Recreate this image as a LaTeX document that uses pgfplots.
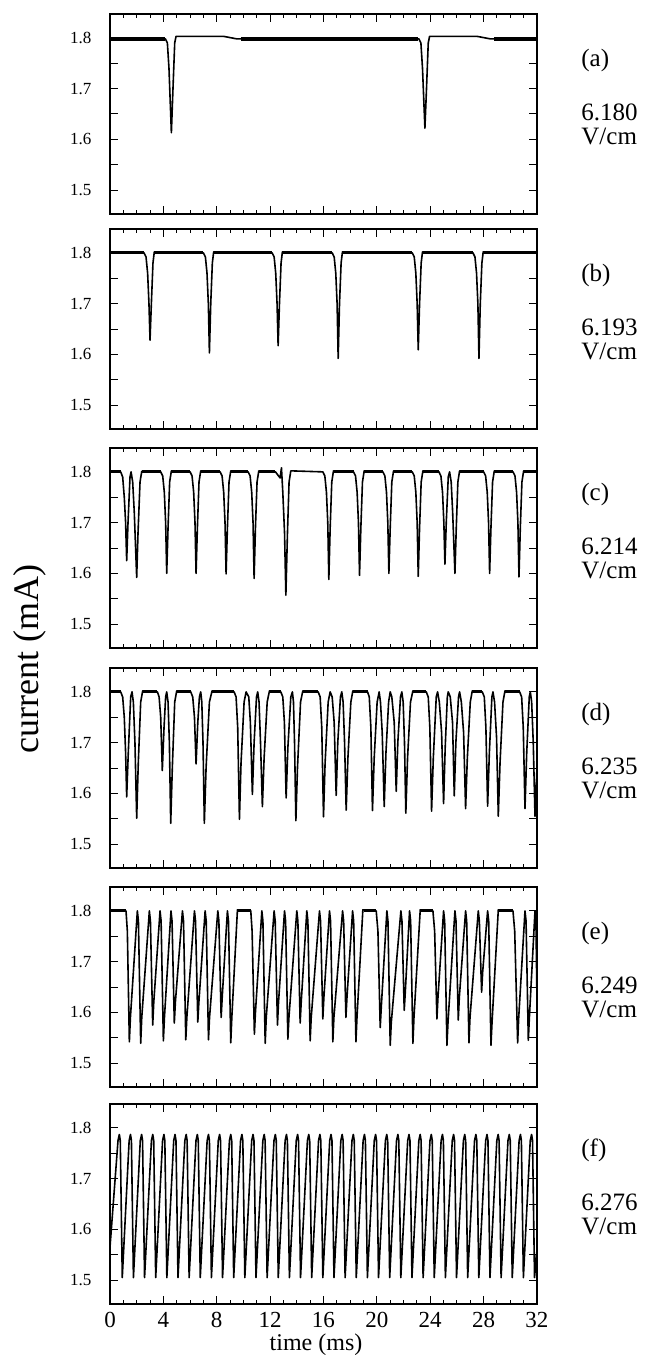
\documentclass[border=0pt]{standalone}
\usepackage{fontspec}
\setmainfont{Liberation Serif}
\usepackage{pgfplots}
\pgfplotsset{compat=1.18}
\pgfplotsset{
 panel/.style={
  scale only axis, width=213.5pt, height=100pt,
  xmin=0, xmax=32, ymin=1.453, ymax=1.847,
  xtick={0,4,...,32}, xticklabels={},
  minor x tick num=3,
  ytick={1.5,1.6,1.7,1.8}, yticklabels={1.5,1.6,1.7,1.8},
  extra y ticks={1.55,1.65,1.75}, extra y tick labels={},
  major tick length=4pt, minor tick length=2pt,
  tick style={line width=0.5pt, black},
  axis line style={line width=0.9pt},
  yticklabel style={font=\fontsize{8.5}{9}\selectfont, xshift=-5.8pt},
  xticklabel style={font=\fontsize{11.5}{13}\selectfont, inner sep=0pt, yshift=-4pt},
  anchor=north west, unbounded coords=jump,
 },
 trace/.style={black, line width=0.8pt, no markers, line join=round},
 noise/.style={black, line width=1.5pt, no markers, line cap=butt},
}
\newcommand{\rlab}[4]{%
 \node[anchor=west,inner sep=0pt,font=\fontsize{12.5}{14}\selectfont] at (290.5pt,-#1pt-23pt) {#2};
 \node[anchor=west,inner sep=0pt,font=\fontsize{12.5}{14}\selectfont] at (290.5pt,-#1pt-49pt) {#3};
 \node[anchor=west,inner sep=0pt,font=\fontsize{12.5}{14}\selectfont] at (290.5pt,-#1pt-61pt) {#4};}
\begin{document}
\begin{tikzpicture}
\useasboundingbox (0,0) rectangle (323.5pt,-677.5pt);
% (a)
\begin{axis}[panel, at={(55pt,-7pt)}]
\addplot[trace] coordinates {(0,1.798) (4.15,1.798) (4.3,1.79) (4.42,1.74) (4.6,1.613) (4.72,1.70) (4.85,1.79) (4.95,1.803) (8.5,1.803) (9.5,1.798) (23.15,1.798) (23.3,1.79) (23.42,1.74) (23.6,1.622) (23.72,1.70) (23.85,1.79) (23.95,1.803) (27.5,1.803) (28.5,1.798) (32,1.798)};
\addplot[noise, line width=1.8pt] coordinates {(0,1.798) (4.1,1.798) (4.1,nan) (9.8,1.798) (23.1,1.798) (23.1,nan) (28.8,1.798) (32,1.798)};
\end{axis}
% (b)
\begin{axis}[panel, at={(55pt,-114.5pt)}]
\addplot[trace] coordinates {(0,1.802)
(2.55,1.800) (2.7,1.792) (2.82,1.76) (2.92,1.70) (3.0,1.628) (3.1,1.70) (3.22,1.78) (3.32,1.802)
(7.0,1.800) (7.15,1.792) (7.27,1.76) (7.37,1.70) (7.45,1.603) (7.55,1.70) (7.67,1.78) (7.77,1.802)
(12.15,1.800) (12.3,1.792) (12.42,1.76) (12.52,1.70) (12.6,1.617) (12.7,1.70) (12.82,1.78) (12.92,1.802)
(16.65,1.800) (16.8,1.792) (16.92,1.76) (17.02,1.70) (17.1,1.592) (17.2,1.70) (17.32,1.78) (17.42,1.802)
(22.65,1.800) (22.8,1.792) (22.92,1.76) (23.02,1.70) (23.1,1.609) (23.2,1.70) (23.32,1.78) (23.42,1.802)
(27.2,1.800) (27.35,1.792) (27.47,1.76) (27.57,1.70) (27.65,1.592) (27.75,1.70) (27.87,1.78) (27.97,1.802)
(32,1.802)};
\addplot[noise] coordinates {(0,1.801) (2.55,1.801) (2.55,nan) (3.35,1.801) (7.0,1.801) (7.0,nan) (7.8,1.801) (12.15,1.801) (12.15,nan) (12.95,1.801) (16.65,1.801) (16.65,nan) (17.45,1.801) (22.65,1.801) (22.65,nan) (23.45,1.801) (27.2,1.801) (27.2,nan) (28.0,1.801) (32,1.801)};
\end{axis}
% (c)
\begin{axis}[panel, at={(55pt,-224pt)}]
\addplot[trace] coordinates {(0,1.800) (0.8,1.800) (0.95,1.79) (1.07,1.75) (1.17,1.70) (1.25,1.625) (1.35,1.70) (1.5,1.79) (1.58,1.800) (1.7,1.78) (1.82,1.72) (2.0,1.592) (2.1,1.68) (2.25,1.78) (2.38,1.801)
(3.8,1.800) (3.95,1.792) (4.07,1.76) (4.17,1.70) (4.25,1.60) (4.35,1.69) (4.47,1.78) (4.6,1.802)
(6.0,1.800) (6.15,1.792) (6.27,1.76) (6.37,1.70) (6.45,1.60) (6.55,1.69) (6.67,1.78) (6.8,1.802)
(8.25,1.800) (8.4,1.792) (8.52,1.76) (8.62,1.70) (8.7,1.599) (8.8,1.69) (8.92,1.78) (9.05,1.802)
(10.35,1.800) (10.5,1.792) (10.62,1.76) (10.72,1.70) (10.8,1.59) (10.9,1.69) (11.02,1.78) (11.15,1.802)
(12.4,1.800) (12.6,1.793) (12.75,1.788) (12.85,1.808) (12.95,1.76) (13.08,1.68) (13.18,1.557) (13.3,1.68) (13.42,1.78) (13.55,1.802)
(15.95,1.800) (16.1,1.792) (16.22,1.76) (16.32,1.70) (16.4,1.588) (16.5,1.69) (16.62,1.78) (16.75,1.802)
(18.25,1.800) (18.4,1.792) (18.52,1.76) (18.62,1.70) (18.7,1.596) (18.8,1.69) (18.92,1.78) (19.05,1.802)
(20.45,1.800) (20.6,1.792) (20.72,1.76) (20.82,1.70) (20.9,1.60) (21.0,1.69) (21.12,1.78) (21.25,1.802)
(22.65,1.800) (22.8,1.792) (22.92,1.76) (23.02,1.70) (23.1,1.594) (23.2,1.69) (23.32,1.78) (23.45,1.802)
(24.65,1.800) (24.8,1.792) (24.92,1.76) (25.02,1.70) (25.1,1.618) (25.2,1.70) (25.35,1.79) (25.45,1.800) (25.57,1.78) (25.68,1.72) (25.85,1.60) (25.95,1.69) (26.07,1.78) (26.2,1.802)
(28.0,1.800) (28.15,1.792) (28.27,1.76) (28.37,1.70) (28.45,1.60) (28.55,1.69) (28.67,1.78) (28.8,1.802)
(30.2,1.800) (30.35,1.792) (30.47,1.76) (30.57,1.70) (30.65,1.593) (30.75,1.69) (30.87,1.78) (31.0,1.802)
(32,1.800)};
\addplot[noise] coordinates {(0,1.801) (0.8,1.801) (0.8,nan) (2.4,1.801) (3.8,1.801) (3.8,nan) (4.6,1.801) (6.0,1.801) (6.0,nan) (6.8,1.801) (8.25,1.801) (8.25,nan) (9.05,1.801) (10.35,1.801) (10.35,nan) (11.15,1.801) (12.4,1.801) (12.4,nan) (16.75,1.801) (18.25,1.801) (18.25,nan) (19.05,1.801) (20.45,1.801) (20.45,nan) (21.25,1.801) (22.65,1.801) (22.65,nan) (23.45,1.801) (24.65,1.801) (24.65,nan) (26.2,1.801) (28.0,1.801) (28.0,nan) (28.8,1.801) (30.2,1.801) (30.2,nan) (31.0,1.801) (32,1.801)};
\end{axis}
% (d)
\begin{axis}[panel, at={(55pt,-334pt)}]
\addplot[trace] coordinates {(0,1.800) (0.8,1.800) (0.95,1.79) (1.07,1.75) (1.17,1.68) (1.25,1.593) (1.37,1.68) (1.55,1.79) (1.65,1.800) (1.75,1.78) (1.87,1.70) (2.0,1.551) (2.12,1.66) (2.3,1.78) (2.45,1.802)
(3.55,1.800) (3.68,1.79) (3.8,1.75) (3.92,1.645) (4.05,1.73) (4.17,1.79) (4.25,1.800) (4.35,1.78) (4.45,1.70) (4.55,1.541) (4.67,1.65) (4.85,1.78) (5.0,1.802)
(6.05,1.800) (6.2,1.79) (6.33,1.75) (6.45,1.658) (6.58,1.74) (6.7,1.79) (6.8,1.800) (6.88,1.78) (6.97,1.70) (7.07,1.541) (7.2,1.65) (7.45,1.78) (7.65,1.802)
(9.3,1.800) (9.45,1.79) (9.57,1.73) (9.7,1.549) (9.82,1.66) (10.05,1.78) (10.2,1.800) (10.4,1.79) (10.52,1.74) (10.67,1.598) (10.8,1.70) (10.98,1.79) (11.07,1.800) (11.17,1.78) (11.28,1.70) (11.42,1.574) (11.55,1.67) (11.78,1.78) (11.95,1.802)
(12.8,1.800) (12.95,1.79) (13.07,1.74) (13.2,1.591) (13.33,1.69) (13.55,1.79) (13.67,1.800) (13.75,1.78) (13.83,1.70) (13.93,1.546) (14.05,1.65) (14.28,1.78) (14.45,1.802)
(15.6,1.800) (15.75,1.79) (15.87,1.73) (16.0,1.554) (16.12,1.66) (16.35,1.78) (16.5,1.800) (16.65,1.79) (16.8,1.74) (16.95,1.596) (17.07,1.70) (17.27,1.79) (17.37,1.800) (17.47,1.78) (17.58,1.70) (17.7,1.567) (17.83,1.67) (18.05,1.78) (18.2,1.802)
(19.3,1.800) (19.43,1.79) (19.55,1.73) (19.67,1.566) (19.8,1.67) (20.02,1.78) (20.17,1.800) (20.27,1.78) (20.4,1.72) (20.55,1.574) (20.68,1.68) (20.88,1.78) (21.0,1.800) (21.12,1.79) (21.3,1.74) (21.45,1.604) (21.57,1.70) (21.77,1.79) (21.87,1.800) (21.97,1.78) (22.07,1.70) (22.17,1.561) (22.3,1.67) (22.52,1.78) (22.7,1.802)
(23.7,1.800) (23.85,1.79) (23.97,1.73) (24.1,1.565) (24.23,1.67) (24.45,1.79) (24.55,1.800) (24.68,1.78) (24.85,1.72) (25.0,1.58) (25.12,1.69) (25.28,1.79) (25.35,1.800) (25.5,1.79) (25.67,1.74) (25.8,1.595) (25.92,1.70) (26.12,1.79) (26.2,1.800) (26.33,1.78) (26.5,1.72) (26.65,1.57) (26.78,1.67) (27.0,1.78) (27.15,1.802)
(27.9,1.800) (28.05,1.79) (28.17,1.73) (28.3,1.575) (28.43,1.68) (28.62,1.79) (28.7,1.800) (28.82,1.78) (28.97,1.71) (29.1,1.555) (29.23,1.66) (29.45,1.78) (29.6,1.802)
(30.7,1.800) (30.85,1.79) (30.97,1.73) (31.1,1.57) (31.23,1.68) (31.42,1.79) (31.5,1.800) (31.6,1.78) (31.72,1.70) (31.85,1.555) (32,1.65)};
\addplot[noise] coordinates {(0,1.801) (0.8,1.801) (0.8,nan) (2.45,1.801) (3.55,1.801) (3.55,nan) (5.0,1.801) (6.05,1.801) (6.05,nan) (7.65,1.801) (9.3,1.801) (9.3,nan) (11.95,1.801) (12.8,1.801) (12.8,nan) (14.45,1.801) (15.6,1.801) (15.6,nan) (18.2,1.801) (19.3,1.801) (19.3,nan) (22.7,1.801) (23.7,1.801) (23.7,nan) (27.15,1.801) (27.9,1.801) (27.9,nan) (29.6,1.801) (30.7,1.801)};
\end{axis}
% (e)
\begin{axis}[panel, at={(55pt,-443.5pt)}]
\addplot[trace] coordinates {(0,1.800) (1.2,1.800) (1.3,1.76) (1.45,1.542)
(1.53,1.59) (2.05,1.800) (2.13,1.78) (2.30,1.539)
(2.38,1.59) (2.95,1.800) (3.03,1.78) (3.20,1.575)
(3.28,1.62) (3.75,1.800) (3.83,1.78) (4.00,1.544)
(4.08,1.59) (4.57,1.800) (4.65,1.78) (4.82,1.579)
(4.90,1.62) (5.43,1.800) (5.51,1.78) (5.68,1.546)
(5.76,1.59) (6.33,1.800) (6.41,1.78) (6.58,1.581)
(6.66,1.62) (7.13,1.800) (7.21,1.78) (7.38,1.546)
(7.46,1.59) (8.08,1.800) (8.16,1.78) (8.33,1.59)
(8.41,1.63) (8.80,1.800) (8.88,1.78) (9.05,1.54)
(9.13,1.59) (9.55,1.802) (10.55,1.800) (10.65,1.76) (10.82,1.557)
(10.90,1.60) (11.38,1.800) (11.46,1.78) (11.63,1.539)
(11.71,1.59) (12.30,1.800) (12.38,1.78) (12.55,1.575)
(12.63,1.62) (13.08,1.800) (13.16,1.78) (13.33,1.547)
(13.41,1.59) (14.00,1.800) (14.08,1.78) (14.25,1.579)
(14.33,1.62) (14.75,1.800) (14.83,1.78) (15.00,1.544)
(15.08,1.59) (15.70,1.800) (15.78,1.78) (15.95,1.587)
(16.03,1.63) (16.45,1.800) (16.53,1.78) (16.70,1.542)
(16.78,1.59) (17.43,1.800) (17.51,1.78) (17.68,1.59)
(17.76,1.63) (18.18,1.800) (18.26,1.78) (18.43,1.542)
(18.51,1.59) (18.95,1.802) (19.95,1.800) (20.08,1.76) (20.25,1.57)
(20.33,1.61) (20.75,1.800) (20.83,1.78) (21.00,1.535)
(21.08,1.58) (21.80,1.800) (21.88,1.78) (22.05,1.604)
(22.13,1.64) (22.45,1.800) (22.53,1.78) (22.70,1.539)
(22.78,1.59) (23.25,1.802) (24.20,1.800) (24.33,1.76) (24.50,1.587)
(24.58,1.63) (25.00,1.800) (25.08,1.78) (25.25,1.535)
(25.33,1.58) (25.85,1.800) (25.93,1.78) (26.10,1.585)
(26.18,1.63) (26.65,1.800) (26.73,1.78) (26.90,1.540)
(26.98,1.59) (27.60,1.800) (27.68,1.78) (27.85,1.640)
(27.93,1.68) (28.30,1.800) (28.38,1.78) (28.55,1.535)
(28.63,1.58) (29.10,1.802) (30.20,1.800) (30.33,1.76) (30.55,1.540)
(30.63,1.59) (31.10,1.800) (31.18,1.78) (31.35,1.545)
(31.43,1.59) (31.85,1.800) (31.92,1.78) (32,1.62)};
\addplot[noise] coordinates {(0,1.801) (1.2,1.801) (1.2,nan) (9.6,1.801) (10.55,1.801) (10.55,nan) (19.0,1.801) (19.95,1.801) (19.95,nan) (23.3,1.801) (24.2,1.801) (24.2,nan) (29.15,1.801) (30.2,1.801)};
\end{axis}
% (f)
\begin{axis}[panel, at={(55pt,-552pt)}, xticklabels={0,4,8,12,16,20,24,28,32}]
\addplot[trace] coordinates {(0,1.565)
(0.600,1.775) (0.700,1.787) (0.770,1.775) (0.920,1.505)
(1.435,1.775) (1.535,1.787) (1.605,1.775) (1.755,1.505)
(2.270,1.775) (2.370,1.787) (2.440,1.775) (2.590,1.505)
(3.105,1.775) (3.205,1.787) (3.275,1.775) (3.425,1.505)
(3.940,1.775) (4.040,1.787) (4.110,1.775) (4.260,1.505)
(4.775,1.775) (4.875,1.787) (4.945,1.775) (5.095,1.505)
(5.610,1.775) (5.710,1.787) (5.780,1.775) (5.930,1.505)
(6.445,1.775) (6.545,1.787) (6.615,1.775) (6.765,1.505)
(7.280,1.775) (7.380,1.787) (7.450,1.775) (7.600,1.505)
(8.115,1.775) (8.215,1.787) (8.285,1.775) (8.435,1.505)
(8.950,1.775) (9.050,1.787) (9.120,1.775) (9.270,1.505)
(9.785,1.775) (9.885,1.787) (9.955,1.775) (10.105,1.505)
(10.620,1.775) (10.720,1.787) (10.790,1.775) (10.940,1.505)
(11.455,1.775) (11.555,1.787) (11.625,1.775) (11.775,1.505)
(12.290,1.775) (12.390,1.787) (12.460,1.775) (12.610,1.505)
(13.125,1.775) (13.225,1.787) (13.295,1.775) (13.445,1.505)
(13.960,1.775) (14.060,1.787) (14.130,1.775) (14.280,1.505)
(14.795,1.775) (14.895,1.787) (14.965,1.775) (15.115,1.505)
(15.630,1.775) (15.730,1.787) (15.800,1.775) (15.950,1.505)
(16.465,1.775) (16.565,1.787) (16.635,1.775) (16.785,1.505)
(17.300,1.775) (17.400,1.787) (17.470,1.775) (17.620,1.505)
(18.135,1.775) (18.235,1.787) (18.305,1.775) (18.455,1.505)
(18.970,1.775) (19.070,1.787) (19.140,1.775) (19.290,1.505)
(19.805,1.775) (19.905,1.787) (19.975,1.775) (20.125,1.505)
(20.640,1.775) (20.740,1.787) (20.810,1.775) (20.960,1.505)
(21.475,1.775) (21.575,1.787) (21.645,1.775) (21.795,1.505)
(22.310,1.775) (22.410,1.787) (22.480,1.775) (22.630,1.505)
(23.145,1.775) (23.245,1.787) (23.315,1.775) (23.465,1.505)
(23.980,1.775) (24.080,1.787) (24.150,1.775) (24.300,1.505)
(24.815,1.775) (24.915,1.787) (24.985,1.775) (25.135,1.505)
(25.650,1.775) (25.750,1.787) (25.820,1.775) (25.970,1.505)
(26.485,1.775) (26.585,1.787) (26.655,1.775) (26.805,1.505)
(27.320,1.775) (27.420,1.787) (27.490,1.775) (27.640,1.505)
(28.155,1.775) (28.255,1.787) (28.325,1.775) (28.475,1.505)
(28.990,1.775) (29.090,1.787) (29.160,1.775) (29.310,1.505)
(29.825,1.775) (29.925,1.787) (29.995,1.775) (30.145,1.505)
(30.660,1.775) (30.760,1.787) (30.830,1.775) (30.980,1.505)
(31.495,1.775) (31.595,1.787) (31.665,1.775) (31.815,1.505)
(32,1.56)};
\end{axis}
\rlab{7}{(a)}{6.180}{V/cm}
\rlab{114.5}{(b)}{6.193}{V/cm}
\rlab{224}{(c)}{6.214}{V/cm}
\rlab{334}{(d)}{6.235}{V/cm}
\rlab{443.5}{(e)}{6.249}{V/cm}
\rlab{552}{(f)}{6.276}{V/cm}
\node[rotate=90,font=\fontsize{18}{20}\selectfont] at (15pt,-329.5pt) {current (mA)};
\node[inner sep=0pt,font=\fontsize{12}{14}\selectfont] at (158pt,-672.6pt) {time (ms)};
\end{tikzpicture}
\end{document}
